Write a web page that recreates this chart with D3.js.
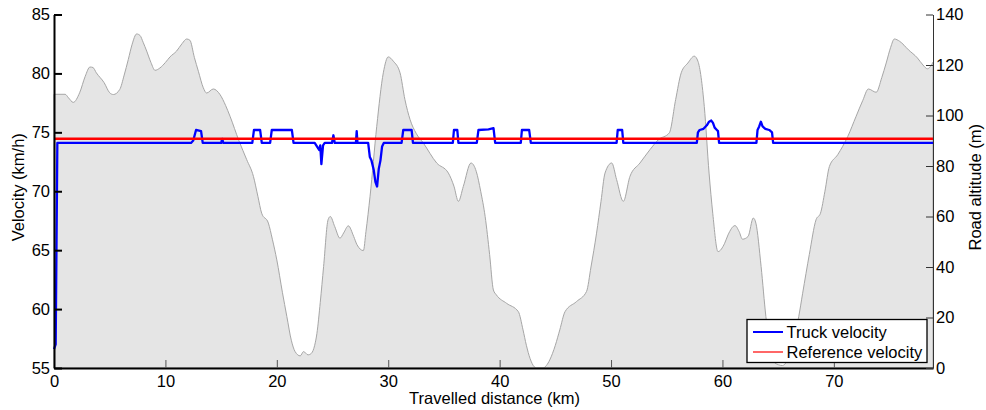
<!DOCTYPE html>
<html>
<head>
<meta charset="utf-8">
<script src="https://cdn.jsdelivr.net/npm/d3@7"></script>
<style>
  body { margin: 0; background: #fff; }
  text { font-family: "Liberation Sans", Arial, sans-serif; }
</style>
</head>
<body>
<div id="chart-area"></div>
<script>
// road profile (km, m)
const roadKm = [0, 1.0, 1.3, 1.73, 2.3, 2.8, 3.23, 3.5, 3.8, 4.5, 5.0, 5.33, 5.9, 6.3, 6.67, 7.0, 7.42, 7.72, 8.0, 8.32,
  8.7, 9.07, 9.5, 10.0, 10.41, 11.0, 11.5, 11.91, 12.2, 12.6, 12.96, 13.4, 13.7, 14.3, 14.9, 15.4, 15.8, 16.6, 17.3, 17.9,
  18.3, 18.64, 19.24, 19.6, 20.0, 20.5, 20.9, 21.3, 21.64, 22.1, 22.4, 22.8, 23.1, 23.4, 23.6, 23.9, 24.2, 24.6, 24.8, 25.2,
  25.67, 26.0, 26.42, 26.9, 27.2, 27.77, 28.0, 28.37, 28.97, 29.56, 30.0, 30.46, 31.06, 31.5, 31.96, 32.5, 33.15, 34.35, 35.4, 35.9,
  36.3, 36.74, 37.43, 37.9, 38.3, 38.7, 39.1, 39.44, 39.7, 40.63, 41.68, 42.1, 42.4, 42.73, 43.1, 43.3, 43.9, 44.2, 44.5, 45.0,
  45.4, 45.87, 46.9, 47.8, 48.2, 48.7, 49.1, 49.46, 50.06, 50.5, 51.1, 51.7, 52.6, 53.5, 54.25, 55.23, 55.8, 56.3, 56.9, 57.47,
  57.8, 58.37, 58.8, 59.13, 59.6, 60.2, 60.5, 61.13, 61.5, 61.8, 62.3, 62.77, 63.0, 63.47, 63.9, 64.3, 64.7, 65.4, 66.0, 66.5,
  66.85, 67.2, 67.8, 68.4, 68.8, 69.2, 69.6, 70.35, 71.25, 72.0, 72.6, 73.1, 73.8, 74.3, 74.7, 75.1, 75.43, 75.9, 76.7, 77.5,
  78.0, 78.4, 78.9]
const roadAlt = [108.4, 108.4, 107, 105.2, 109, 115.5, 119.2, 119, 116.9, 113, 109, 108.3, 110.3, 116, 122.2, 128, 132.3, 131.7, 129, 125.5,
  121, 117.9, 118.8, 121, 123.2, 125.5, 128.5, 130.3, 129.8, 123, 117.5, 111, 108.9, 110.5, 108.3, 104, 99.7, 90, 82.5, 75.9,
  68, 61.3, 57.4, 51, 42.8, 30, 20.4, 11, 6.5, 4.8, 6.5, 5.2, 5.8, 9, 13.7, 26, 40.2, 58.7, 60, 56,
  51.4, 53.5, 56.3, 52.1, 48.8, 46.5, 54, 68, 95.7, 116.9, 123.2, 121.5, 116.9, 106.3, 98.4, 93, 89.1, 81.2, 77.2, 72,
  66, 71.9, 81.2, 77.9, 70, 60, 45, 30.9, 29, 25.6, 22.3, 15.1, 9, 3.8, 0.5, 0, 0, 1, 3.2, 9,
  15.1, 22.3, 26.3, 30.3, 40, 53.4, 66, 77.2, 81.2, 74.6, 66, 75.9, 81.2, 86.5, 90.4, 93.1, 106.3, 116.9, 120.8, 123.5,
  121.5, 103.6, 77.2, 61.3, 46.1, 49.4, 52.7, 56.4, 54, 51, 52.1, 59.4, 57.4, 40.2, 20.4, 8, 2, 1, 5, 13,
  20.4, 29.6, 45, 58.7, 61.3, 70, 79.8, 84.5, 91.7, 99.7, 106, 110.5, 109.2, 115, 120.8, 127, 130.3, 129.4, 126, 122.8,
  120, 118.5, 121.1]

// truck velocity (km, km/h)
const truckKm = [0, 0.15, 0.3, 12.3, 12.5, 12.75, 13.2, 13.35, 15.0, 15.1, 15.2, 17.8, 17.95, 18.5, 18.65, 19.4, 19.55, 21.35, 21.5,
  23.4, 23.6, 23.8, 23.9, 24.0, 24.15, 24.3, 24.95, 25.08, 25.2, 27.1, 27.17, 27.24,
  28.2, 28.35, 28.5, 28.7, 28.85, 29.0, 29.15, 29.3, 29.45, 29.6,
  31.2, 31.35, 32.1, 32.22, 35.8, 35.9, 36.2, 36.3, 37.95, 38.1, 39.0, 39.45, 39.6,
  41.9, 42.0, 42.65, 42.8, 50.5, 50.6, 51.0, 51.1,
  57.7, 57.8, 57.95, 58.3, 58.6, 58.8, 59.0, 59.15, 59.3, 59.5, 59.6, 59.7,
  63.05, 63.15, 63.3, 63.45, 63.6, 63.85, 64.2, 64.45, 64.55, 78.9]
const truckVel = [56.6, 57, 74.1, 74.1, 74.3, 75.2, 75.1, 74.1, 74.1, 74.45, 74.1, 74.1, 75.2, 75.2, 74.1, 74.1, 75.2, 75.2, 74.1,
  74.1, 73.8, 73.5, 73.9, 72.3, 73.9, 74.1, 74.1, 74.75, 74.1, 74.1, 75.1, 74.1,
  74.1, 72.9, 72.6, 71.8, 70.8, 70.4, 71.9, 72.6, 73.8, 74.1,
  74.1, 75.2, 75.2, 74.1, 74.1, 75.2, 75.2, 74.1, 74.1, 75.2, 75.25, 75.35, 74.1,
  74.1, 75.2, 75.2, 74.1, 74.1, 75.2, 75.2, 74.1,
  74.1, 75.0, 75.2, 75.3, 75.6, 75.9, 76.0, 75.8, 75.4, 75.2, 75.1, 74.1,
  74.1, 75.2, 75.5, 75.9, 75.5, 75.3, 75.2, 75.0, 74.1, 74.1]

const refVel = 74.45

const velTicks = [55, 60, 65, 70, 75, 80, 85]
const altTicks = [0, 20, 40, 60, 80, 100, 120, 140]
const kmTicks = [0, 10, 20, 30, 40, 50, 60, 70]

const FONT = "16.5px"
const MARGIN = { LEFT: 54, RIGHT: 53, TOP: 14.5, BOTTOM: 42 }
const WIDTH = 986 - MARGIN.LEFT - MARGIN.RIGHT
const HEIGHT = 410 - MARGIN.TOP - MARGIN.BOTTOM

const svg = d3.select("#chart-area").append("svg")
  .attr("width", WIDTH + MARGIN.LEFT + MARGIN.RIGHT)
  .attr("height", HEIGHT + MARGIN.TOP + MARGIN.BOTTOM)

const g = svg.append("g")
  .attr("transform", `translate(${MARGIN.LEFT}, ${MARGIN.TOP})`)

const x = d3.scaleLinear().domain([0, 78.9]).range([0, WIDTH])
const yVel = d3.scaleLinear().domain([55, 85]).range([HEIGHT, 0])
const yAlt = d3.scaleLinear().domain([0, 140]).range([HEIGHT, 0])

// terrain
const road = roadKm.map((k, i) => ({ km: k, alt: roadAlt[i] }))
g.append("path")
  .datum(road)
  .attr("fill", "#e5e5e5")
  .attr("stroke", "#a6a6a6")
  .attr("stroke-width", 1)
  .attr("d", d3.area()
    .x(d => x(d.km))
    .y0(HEIGHT)
    .y1(d => yAlt(d.alt))
    .curve(d3.curveMonotoneX))

// truck velocity
const truck = truckKm.map((k, i) => ({ km: k, v: truckVel[i] }))
g.append("path")
  .datum(truck)
  .attr("fill", "none")
  .attr("stroke", "#0000ff")
  .attr("stroke-width", 2.3)
  .attr("stroke-linejoin", "round")
  .attr("d", d3.line().x(d => x(d.km)).y(d => yVel(d.v)))

// reference velocity
g.append("line")
  .attr("x1", x(0)).attr("x2", x(78.9))
  .attr("y1", yVel(refVel)).attr("y2", yVel(refVel))
  .attr("stroke", "#ff0000")
  .attr("stroke-width", 2.4)

// axes
const xAxisGroup = g.append("g")
  .attr("transform", `translate(0, ${HEIGHT})`)
  .call(d3.axisBottom(x).tickValues(kmTicks).tickSize(-8).tickSizeOuter(0).tickPadding(7))
xAxisGroup.select(".domain").attr("stroke", "#000").attr("stroke-width", 2)
xAxisGroup.selectAll(".tick line").attr("stroke", "#555")

const yAxisGroup = g.append("g")
  .call(d3.axisLeft(yVel).tickValues(velTicks).tickSize(-8).tickSizeOuter(0).tickPadding(4))
yAxisGroup.select(".domain").attr("stroke", "#000").attr("stroke-width", 2)
yAxisGroup.selectAll(".tick line").attr("stroke", "#000").attr("stroke-width", 2)

const y2AxisGroup = g.append("g")
  .attr("transform", `translate(${WIDTH}, 0)`)
  .call(d3.axisRight(yAlt).tickValues(altTicks).tickSize(-7).tickSizeOuter(0).tickPadding(3))
y2AxisGroup.select(".domain").attr("stroke", "#333").attr("stroke-width", 1)
y2AxisGroup.selectAll(".tick line").attr("stroke", "#333")

g.selectAll(".tick text")
  .attr("font-size", FONT)
  .attr("font-family", "Liberation Sans, Arial, sans-serif")
  .attr("fill", "#000")

// axis labels
g.append("text")
  .attr("x", -(HEIGHT / 2) + 4)
  .attr("y", -30)
  .attr("font-size", FONT)
  .attr("text-anchor", "middle")
  .attr("transform", "rotate(-90)")
  .text("Velocity (km/h)")

g.append("text")
  .attr("x", -(HEIGHT / 2) + 4)
  .attr("y", WIDTH + 48)
  .attr("font-size", FONT)
  .attr("text-anchor", "middle")
  .attr("transform", "rotate(-90)")
  .text("Road altitude (m)")

g.append("text")
  .attr("x", WIDTH / 2 + 1)
  .attr("y", HEIGHT + 36)
  .attr("font-size", FONT)
  .attr("text-anchor", "middle")
  .text("Travelled distance (km)")

// legend
const legendItems = [
  { name: "Truck velocity", color: "#0000ff", w: 2 },
  { name: "Reference velocity", color: "#ff0000", w: 1.2 }
]
const legend = g.append("g")
  .attr("transform", `translate(${747 - MARGIN.LEFT}, ${319.5 - MARGIN.TOP})`)

legend.append("rect")
  .attr("width", 180)
  .attr("height", 43)
  .attr("fill", "#fff")
  .attr("stroke", "#000")
  .attr("stroke-width", 1.3)

legendItems.forEach((item, i) => {
  const row = legend.append("g")
    .attr("transform", `translate(0, ${12.5 + i * 20})`)
  row.append("line")
    .attr("x1", 6).attr("x2", 36)
    .attr("stroke", item.color)
    .attr("stroke-width", item.w)
  row.append("text")
    .attr("x", 39.5)
    .attr("y", 6)
    .attr("font-size", FONT)
    .text(item.name)
})
</script>
</body>
</html>
